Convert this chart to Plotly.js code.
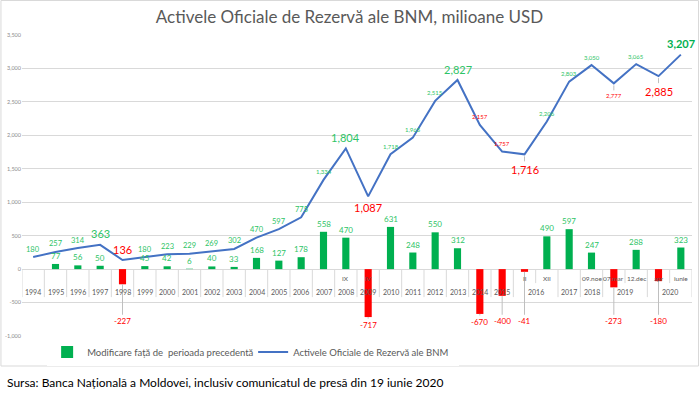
<!DOCTYPE html>
<html><head><meta charset="utf-8">
<script src="https://cdn.plot.ly/plotly-3.0.1.min.js"></script>
<style>html,body{margin:0;padding:0;background:#fff}#chart{width:699px;height:393px}</style>
</head><body><div id="chart"></div>
<script>
// ---- data ----
const years = ['1994','1995','1996','1997','1998','1999','2000','2001','2002','2003','2004','2005','2006','2007','2008','2009','2010','2011','2012','2013','2014','2015','2016','2016','2017','2018','2019','2019','2020','2020'];
const periods = ['','','','','','','','','','','','','','','IX','IV','','','','','','','II','XII','','09.noe','07.mar','12.dec','apr','iunie'];
const reserves = [180,257,314,363,136,180,223,229,269,302,470,597,775,1334,1804,1087,1718,1965,2515,2827,2157,1757,1716,2206,2803,3050,2777,3065,2885,3207];
const changes = [null,77,56,50,-227,45,42,6,40,33,168,127,178,558,470,-717,631,248,550,312,-670,-400,-41,490,597,247,-273,288,-180,323];
const tickVals = [-1000,-500,0,500,1000,1500,2000,2500,3000,3500];
const seriesNames = ['Modificare față de \u00a0perioada precedentă','Activele Oficiale de Rezervă ale BNM'];
const titleText = 'Activele Oficiale de Rezervă ale BNM, milioane USD';
const sourceText = 'Sursa: Banca Națională a Moldovei, inclusiv comunicatul de presă din 19 iunie 2020';

// ---- label styles (not data) ----
const reserveLabelKind = ['m','m','m','L','R','m','m','m','m','m','m','m','m','s','L','Rb','s','s','s','L','r','r','Ra','s','s','s','ra','s','Ra','LB'];

const FONT = 'Lato, "Open Sans", sans-serif';
const G = '#2ec466', GD = '#00b050', RD = '#ff0000', GRID = '#d9d9d9', TXT = '#595959';
const kindStyle = {
  m: {size:7.5, color:G, shift:8},
  s: {size:6, color:G, shift:8},
  L: {size:11, color:G, shift:11},
  LB:{size:11, color:GD, shift:11, bold:true},
  R: {size:11, color:RD, shift:11},
  Rb:{size:11, color:RD, shift:-11},
  Ra:{size:11, color:RD, shift:-15, arrow:true},
  r: {size:6, color:RD, shift:8},
  ra:{size:6, color:RD, shift:-12, arrow:true}
};
const fmt = v => v.toLocaleString('en-US');
const idx = years.map((_, i) => i);
const catLabels = years.map((y, i) => periods[i] ? y + ' ' + periods[i] : y);

const annotations = [];
const shapes = [];
// value labels on the line
reserves.forEach((v, i) => {
  const st = kindStyle[reserveLabelKind[i]];
  const a = {xref:'x2', yref:'y', x:i, y:v, text: st.bold ? '<b>'+fmt(v)+'</b>' : fmt(v),
    font:{family:FONT, size:st.size, color:st.color}};
  if (st.arrow) {
    Object.assign(a, {showarrow:true, ax:0, ay:-st.shift, arrowhead:0, arrowwidth:1, arrowcolor:'#bfbfbf', standoff:2});
  } else {
    Object.assign(a, {showarrow:false, yanchor:'middle', yshift:st.shift});
  }
  annotations.push(a);
});
// value labels on the bars
changes.forEach((v, i) => {
  if (v === null) return;
  if (v >= 0) {
    annotations.push({xref:'x2', yref:'y', x:i, y:v, text:fmt(v), showarrow:false, yanchor:'bottom', yshift:1,
      font:{family:FONT, size:8, color:G}});
  } else {
    annotations.push({xref:'x2', yref:'y', x:i, y:v, text:fmt(v), showarrow:true, ax:0, axref:'pixel',
      ayref:'y', ay:Math.min(-780, v - 120), arrowhead:0, arrowwidth:1, arrowcolor:'#bfbfbf', standoff:0,
      font:{family:FONT, size:8, color:RD}});
  }
});
// two-level category axis at y = 0
periods.forEach((p, i) => {
  if (!p) return;
  annotations.push({xref:'x2', yref:'y', x:i, y:0, text:p, showarrow:false, yanchor:'middle', yshift:-9,
    font:{family:FONT, size:6.5, color:TXT}});
});
const groups = [];
years.forEach((y, i) => {
  const g = groups[groups.length - 1];
  if (g && g.year === y) g.end = i; else groups.push({year:y, start:i, end:i});
});
groups.forEach(g => {
  annotations.push({xref:'x2', yref:'y', x:(g.start + g.end) / 2, y:0, text:g.year, showarrow:false,
    yanchor:'middle', yshift:-23, font:{family:FONT, size:7, color:TXT}});
});
for (let b = 0; b <= years.length; b++) {
  const full = b === 0 || b === years.length || years[b] !== years[b - 1];
  shapes.push({type:'line', xref:'x2', yref:'y', x0:b - 0.5, x1:b - 0.5, ysizemode:'pixel', yanchor:0,
    y0:0, y1:full ? -28 : -14, line:{color:GRID, width:1}, layer:'above'});
}
annotations.push({xref:'paper', yref:'paper', x:-0.0254, y:-0.156, xanchor:'left', yanchor:'middle',
  text:sourceText, showarrow:false, font:{family:FONT, size:12, color:'#000'}});
shapes.push({type:'rect', xref:'paper', yref:'paper', x0:-0.0314, x1:1.0097, y0:-0.0997, y1:1.1146,
  line:{color:GRID, width:1}, fillcolor:'rgba(0,0,0,0)', layer:'below'});

const data = [
  {type:'bar', name:seriesNames[0], x:catLabels, y:changes,
   marker:{color:changes.map(v => (v !== null && v < 0) ? RD : GD)}, hoverinfo:'skip'},
  {type:'scatter', mode:'lines', name:seriesNames[1], x:catLabels, y:reserves,
   line:{color:'#4472c4', width:2}, hoverinfo:'skip'},
  {type:'scatter', mode:'markers', x:idx, y:reserves, xaxis:'x2', marker:{opacity:0}, showlegend:false, hoverinfo:'skip'}
];

const layout = {
  width:699, height:393,
  margin:{l:22, r:7, t:35, b:57},
  paper_bgcolor:'#fff', plot_bgcolor:'#fff',
  font:{family:FONT, color:TXT},
  title:{text:titleText, x:0.5, xref:'container', xanchor:'center', y:0.957, yref:'container', yanchor:'middle',
    font:{family:FONT, size:17, color:TXT}},
  showlegend:true,
  legend:{orientation:'h', x:0.0375, xanchor:'left', y:-0.053, yanchor:'middle', font:{family:FONT, size:9.5, color:TXT},
    traceorder:'normal', itemwidth:30, entrywidth:161, entrywidthmode:'pixels'},
  bargap:0.68,
  xaxis:{type:'category', range:[-0.5, 29.5], showgrid:false, showline:false, ticks:'', showticklabels:false},
  xaxis2:{overlaying:'x', anchor:'y', range:[-0.5, 29.5], visible:false},
  yaxis:{range:[-1000, 3500], tickvals:tickVals, ticktext:tickVals.map(fmt), showgrid:true, gridcolor:GRID,
    gridwidth:1, zeroline:true, zerolinecolor:GRID, zerolinewidth:1, ticks:'', showline:false,
    tickfont:{family:FONT, size:5.5, color:'#8c8c8c'}},
  shapes:shapes,
  annotations:annotations
};
Plotly.newPlot('chart', data, layout, {staticPlot:true, displayModeBar:false});
</script></body></html>
